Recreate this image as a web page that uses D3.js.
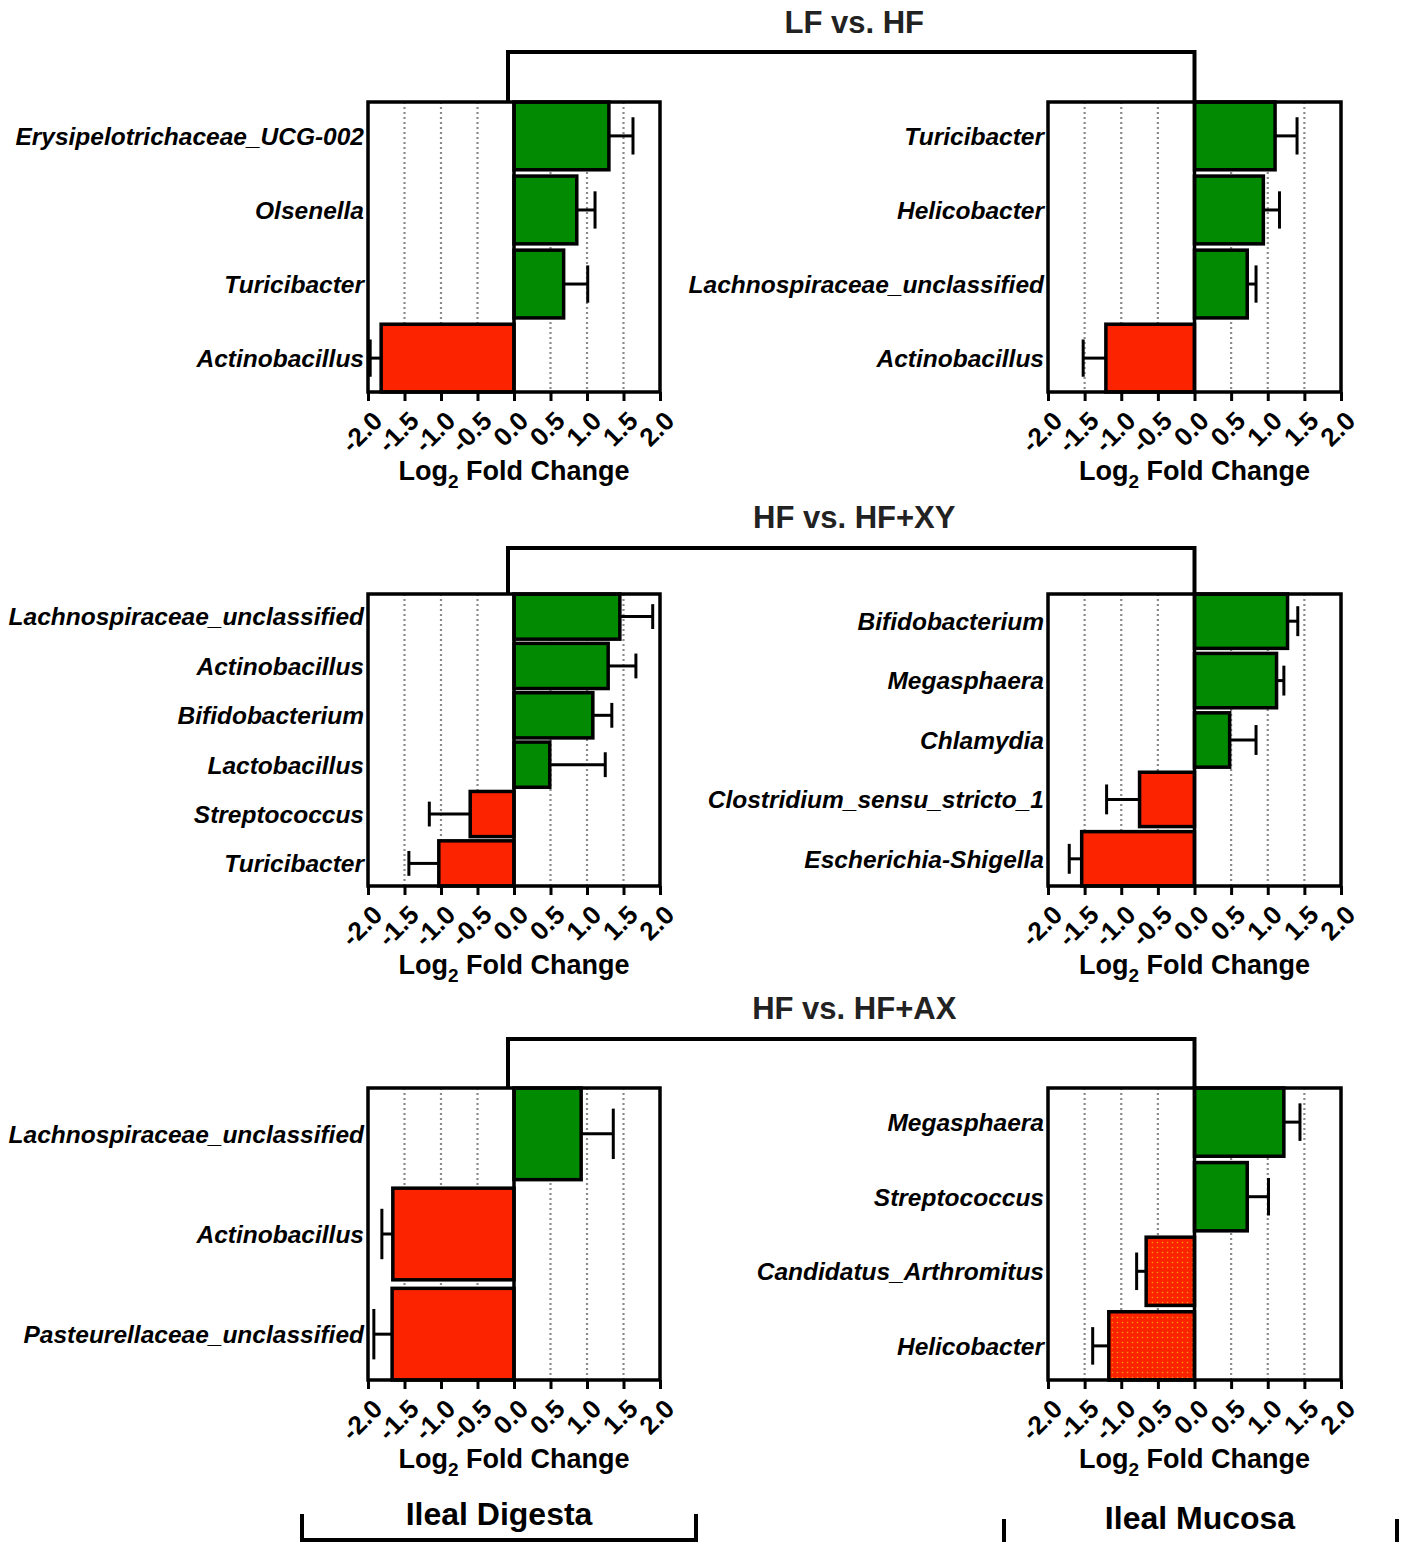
<!DOCTYPE html>
<html>
<head>
<meta charset="utf-8">
<script src="https://cdn.jsdelivr.net/npm/d3@7"></script>
<style>
  body { margin: 0; background: #fff; }
  svg { font-family: "Liberation Sans", Arial, sans-serif; }
</style>
</head>
<body>
<svg id="canvas"></svg>
<script>
// data
var rowTitles = ["LF vs. HF", "HF vs. HF+XY", "HF vs. HF+AX"];
var tickVals = [-2.0, -1.5, -1.0, -0.5, 0.0, 0.5, 1.0, 1.5, 2.0];

var lfhfDigestaNames = ["Erysipelotrichaceae_UCG-002", "Olsenella", "Turicibacter", "Actinobacillus"];
var lfhfDigestaValues = [1.30, 0.86, 0.68, -1.82];
var lfhfDigestaErr = [0.33, 0.25, 0.33, 0.15];

var lfhfMucosaNames = ["Turicibacter", "Helicobacter", "Lachnospiraceae_unclassified", "Actinobacillus"];
var lfhfMucosaValues = [1.10, 0.94, 0.72, -1.21];
var lfhfMucosaErr = [0.30, 0.22, 0.12, 0.31];

var xyDigestaNames = ["Lachnospiraceae_unclassified", "Actinobacillus", "Bifidobacterium", "Lactobacillus", "Streptococcus", "Turicibacter"];
var xyDigestaValues = [1.45, 1.29, 1.08, 0.49, -0.60, -1.03];
var xyDigestaErr = [0.45, 0.38, 0.26, 0.76, 0.56, 0.41];

var xyMucosaNames = ["Bifidobacterium", "Megasphaera", "Chlamydia", "Clostridium_sensu_stricto_1", "Escherichia-Shigella"];
var xyMucosaValues = [1.27, 1.12, 0.48, -0.75, -1.54];
var xyMucosaErr = [0.14, 0.10, 0.36, 0.45, 0.17];

var axDigestaNames = ["Lachnospiraceae_unclassified", "Actinobacillus", "Pasteurellaceae_unclassified"];
var axDigestaValues = [0.92, -1.66, -1.67];
var axDigestaErr = [0.44, 0.15, 0.25];

var axMucosaNames = ["Megasphaera", "Streptococcus", "Candidatus_Arthromitus", "Helicobacter"];
var axMucosaValues = [1.22, 0.72, -0.66, -1.17];
var axMucosaErr = [0.22, 0.29, 0.13, 0.22];
var axMucosaDotted = [false, false, true, true];

var tissueLabels = ["Ileal Digesta", "Ileal Mucosa"];

var GREEN = "#038a03", RED = "#fb2300";

var svg = d3.select("#canvas").attr("width", 1405).attr("height", 1542);

// dotted red fill for the last panel
var pat = svg.append("defs").append("pattern")
    .attr("id", "dots")
    .attr("width", 5).attr("height", 5)
    .attr("patternUnits", "userSpaceOnUse");
pat.append("rect").attr("width", 5).attr("height", 5).attr("fill", RED);
pat.append("circle").attr("cx", 2.5).attr("cy", 2.5).attr("r", 0.8).attr("fill", "#ff9a00");

// layout
var colX = [[368, 660], [1048, 1341]];
var rows = [
    {title: 33, bracket: 52, top: 102, bottom: 392},
    {title: 528, bracket: 548, top: 594, bottom: 886},
    {title: 1019, bracket: 1039, top: 1088, bottom: 1380}
];

var panels = [
    [lfhfDigestaNames, lfhfDigestaValues, lfhfDigestaErr, null],
    [lfhfMucosaNames, lfhfMucosaValues, lfhfMucosaErr, null],
    [xyDigestaNames, xyDigestaValues, xyDigestaErr, null],
    [xyMucosaNames, xyMucosaValues, xyMucosaErr, null],
    [axDigestaNames, axDigestaValues, axDigestaErr, null],
    [axMucosaNames, axMucosaValues, axMucosaErr, axMucosaDotted]
];

var zeros = [];

panels.forEach(function(p, k) {
    var r = rows[Math.floor(k / 2)];
    var c = k % 2;
    var names = p[0], values = p[1], errs = p[2], dotted = p[3];

    var x = d3.scaleLinear().domain([-2, 2]).range(colX[c]);
    var y = d3.scaleBand().domain(names).range([r.top, r.bottom]).paddingInner(0.085);
    zeros[k] = x(0);

    var g = svg.append("g");

    // dotted grid
    g.selectAll(".grid")
        .data(tickVals.filter(function(t) { return t !== 0 && Math.abs(t) !== 2; }))
        .enter().append("line")
        .attr("x1", function(d) { return x(d); })
        .attr("x2", function(d) { return x(d); })
        .attr("y1", r.top).attr("y2", r.bottom)
        .attr("stroke", "#8a8a8a")
        .attr("stroke-width", 2.2)
        .attr("stroke-dasharray", "2,3");

    // bars
    g.selectAll(".bar")
        .data(names)
        .enter().append("rect")
        .attr("x", function(d, i) { return x(Math.min(0, values[i])); })
        .attr("y", function(d) { return y(d); })
        .attr("width", function(d, i) { return Math.abs(x(values[i]) - x(0)); })
        .attr("height", y.bandwidth())
        .attr("fill", function(d, i) {
            if (dotted && dotted[i]) return "url(#dots)";
            return values[i] > 0 ? GREEN : RED;
        })
        .attr("stroke", "#000")
        .attr("stroke-width", 3.5);

    // error bars, one-sided away from zero
    var capH = y.bandwidth() * 0.55;
    names.forEach(function(d, i) {
        var v = values[i], e = values[i] > 0 ? v + errs[i] : v - errs[i];
        var cy = y(d) + y.bandwidth() / 2;
        g.append("line")
            .attr("x1", x(v)).attr("x2", x(e))
            .attr("y1", cy).attr("y2", cy)
            .attr("stroke", "#000").attr("stroke-width", 3);
        g.append("line")
            .attr("x1", x(e)).attr("x2", x(e))
            .attr("y1", cy - capH / 2).attr("y2", cy + capH / 2)
            .attr("stroke", "#000").attr("stroke-width", 3);
    });

    // zero line
    g.append("line")
        .attr("x1", x(0)).attr("x2", x(0))
        .attr("y1", r.top).attr("y2", r.bottom)
        .attr("stroke", "#000").attr("stroke-width", 3.5);

    // frame
    g.append("rect")
        .attr("x", colX[c][0]).attr("y", r.top)
        .attr("width", colX[c][1] - colX[c][0])
        .attr("height", r.bottom - r.top)
        .attr("fill", "none")
        .attr("stroke", "#000").attr("stroke-width", 3.5);

    // x axis
    var ax = g.append("g")
        .attr("transform", "translate(0," + r.bottom + ")")
        .call(d3.axisBottom(x).tickValues(tickVals).tickSize(9).tickFormat(function(d) { return d.toFixed(1); }));
    ax.select(".domain").remove();
    ax.selectAll(".tick line").attr("stroke", "#000").attr("stroke-width", 3);
    ax.selectAll(".tick text")
        .attr("fill", "#000")
        .style("font-size", "26px")
        .style("font-weight", "bold")
        .attr("text-anchor", "end")
        .attr("x", 0).attr("y", 0)
        .attr("dy", "0.35em")
        .attr("transform", "translate(9,24) rotate(-45)");

    // axis title
    var lab = g.append("text")
        .attr("x", x(0)).attr("y", r.bottom + 88)
        .attr("text-anchor", "middle")
        .style("font-size", "27px")
        .style("font-weight", "bold");
    lab.append("tspan").text("Log");
    lab.append("tspan").text("2").style("font-size", "19px").attr("dy", 8);
    lab.append("tspan").text(" Fold Change").attr("dy", -8);

    // category labels
    g.selectAll(".cat")
        .data(names)
        .enter().append("text")
        .attr("x", colX[c][0] - 4)
        .attr("y", function(d) { return y(d) + y.bandwidth() / 2; })
        .attr("dy", "0.36em")
        .attr("text-anchor", "end")
        .style("font-size", "24.5px")
        .style("font-weight", "bold")
        .style("font-style", "italic")
        .text(function(d) { return d; });
});

// row titles and brackets joining the two panels of each comparison
rows.forEach(function(r, i) {
    var xl = zeros[i * 2], xr = zeros[i * 2 + 1];
    svg.append("path")
        .attr("d", "M" + (xl - 6) + "," + r.top + "V" + r.bracket + "H" + xr + "V" + r.top)
        .attr("fill", "none")
        .attr("stroke", "#000")
        .attr("stroke-width", 4);
    svg.append("text")
        .attr("x", (xl + xr) / 2)
        .attr("y", r.title)
        .attr("text-anchor", "middle")
        .style("font-size", "31px")
        .style("font-weight", "bold")
        .attr("fill", "#222")
        .text(rowTitles[i]);
});

// tissue labels at the bottom
var tissue = [
    {cx: 499, base: 1525, x0: 302, x1: 696, top: 1514, line: 1540},
    {cx: 1200, base: 1529, x0: 1004, x1: 1397, top: 1519, line: 1550}
];
tissue.forEach(function(t, i) {
    svg.append("text")
        .attr("x", t.cx).attr("y", t.base)
        .attr("text-anchor", "middle")
        .style("font-size", "32px")
        .style("font-weight", "bold")
        .text(tissueLabels[i]);
    svg.append("path")
        .attr("d", "M" + t.x0 + "," + t.top + "V" + t.line + "H" + t.x1 + "V" + t.top)
        .attr("fill", "none")
        .attr("stroke", "#000")
        .attr("stroke-width", 4);
});
</script>
</body>
</html>
